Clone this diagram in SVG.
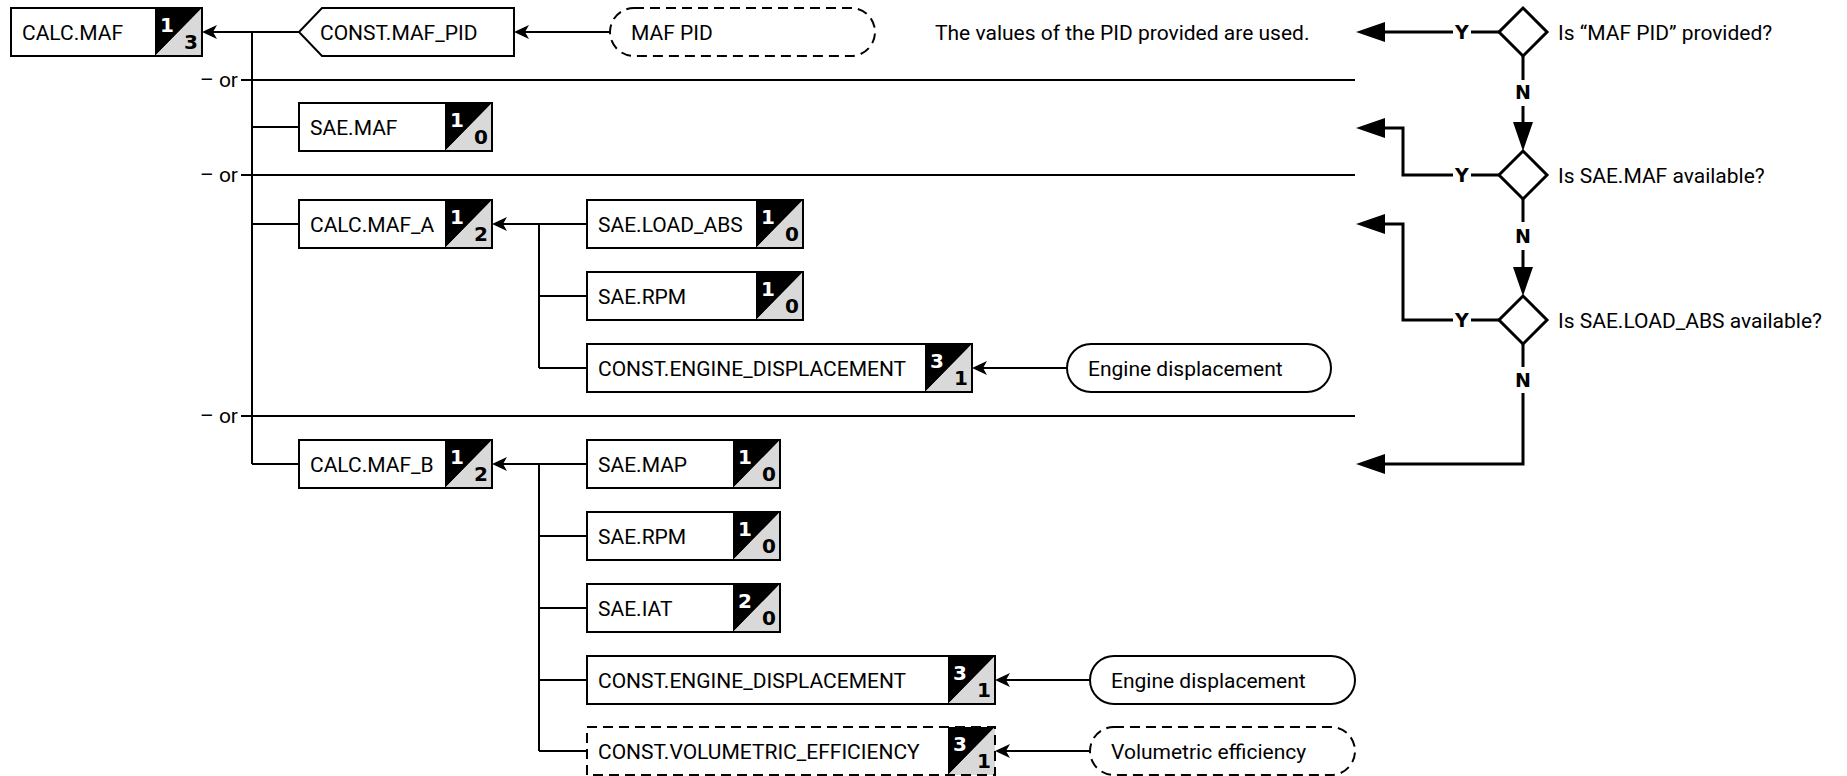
<svg xmlns="http://www.w3.org/2000/svg" width="1847" height="776" viewBox="0 0 1847 776">
<defs>
<style>
.t{font-family:Roboto,"Liberation Sans",sans-serif;font-size:21px;fill:#000}
.b{font-family:"DejaVu Sans","Liberation Sans",sans-serif;font-size:19px;font-weight:700;fill:#000}
.d{font-family:"DejaVu Sans","Liberation Sans",sans-serif;font-size:20px;font-weight:700;fill:#000}
.w{fill:#fff}
.box{fill:#fff;stroke:#000;stroke-width:2}
.frame{fill:none;stroke:#000;stroke-width:2}
.dash{stroke-dasharray:10 6}
.c{fill:none;stroke:#000;stroke-width:2}
.k{fill:none;stroke:#000;stroke-width:3}
.dia{fill:#fff;stroke:#000;stroke-width:3}
</style>
<marker id="a" markerWidth="16" markerHeight="14" refX="5" refY="7" orient="auto" markerUnits="userSpaceOnUse"><path d="M0,0 L15,7 L0,14 L4,7 Z" fill="#000"/></marker>
<marker id="A" markerWidth="30" markerHeight="20" refX="3" refY="10" orient="auto" markerUnits="userSpaceOnUse"><path d="M0,0 L29,10 L0,20 Z" fill="#000"/></marker>
<g id="badge"><polygon points="0,0 47,0 0,48" fill="#000"/><polygon points="47,0 47,48 0,48" fill="#d9d9d9"/></g>
</defs>
<rect width="1847" height="776" fill="#fff"/>

<g id="connectors">
<path class="c" d="M299,32 H212" marker-end="url(#a)"/>
<path class="c" d="M610,32 H524" marker-end="url(#a)"/>
<path class="c" d="M252,32 V464"/>
<path class="c" d="M252,127 H299 M252,224 H299 M252,464 H299"/>
<path class="c" d="M241,80 H1355 M241,175 H1355 M241,416 H1355"/>
<path class="c" d="M587,224 H502" marker-end="url(#a)"/>
<path class="c" d="M539,224 V368 M539,296 H587 M539,368 H587"/>
<path class="c" d="M1067,368 H982" marker-end="url(#a)"/>
<path class="c" d="M587,464 H502" marker-end="url(#a)"/>
<path class="c" d="M539,464 V751 M539,536 H587 M539,608 H587 M539,680 H587 M539,751 H587"/>
<path class="c" d="M1090,680 H1005" marker-end="url(#a)"/>
<path class="c" d="M1090,751 H1005" marker-end="url(#a)"/>
<path class="k" d="M1499,32 H1471 M1499,175 H1471 M1499,320 H1471"/>
<path class="k" d="M1453,32 H1382" marker-end="url(#A)"/>
<path class="k" d="M1453,175 H1403 V128 H1382" marker-end="url(#A)"/>
<path class="k" d="M1453,320 H1403 V224 H1382" marker-end="url(#A)"/>
<path class="k" d="M1523,56 V80 M1523,199 V222 M1523,344 V367"/>
<path class="k" d="M1523,106 V125" marker-end="url(#A)"/>
<path class="k" d="M1523,250 V270" marker-end="url(#A)"/>
<path class="k" d="M1523,393 V464 H1382" marker-end="url(#A)"/>
<text class="b" x="1462" y="39" text-anchor="middle">Y</text>
<text class="b" x="1462" y="182" text-anchor="middle">Y</text>
<text class="b" x="1462" y="327" text-anchor="middle">Y</text>
<text class="b" x="1523" y="99" text-anchor="middle">N</text>
<text class="b" x="1523" y="243" text-anchor="middle">N</text>
<text class="b" x="1523" y="387" text-anchor="middle">N</text>
<text class="t" x="238" y="87" text-anchor="end">– or</text>
<text class="t" x="238" y="182" text-anchor="end">– or</text>
<text class="t" x="238" y="423" text-anchor="end">– or</text>
</g>

<g id="calc-maf">
<rect class="box" x="11" y="8" width="191" height="48"/>
<use href="#badge" x="155" y="8"/>
<rect class="frame" x="11" y="8" width="191" height="48"/>
<text class="t" x="22" y="39.5">CALC.MAF</text>
<text class="d w" x="160" y="32">1</text>
<text class="d" x="198" y="49" text-anchor="end">3</text>
</g>

<g id="const-maf-pid">
<polygon class="box" points="299,32 322,8 514,8 514,56 322,56"/>
<text class="t" x="320" y="39.5">CONST.MAF_PID</text>
</g>

<g id="maf-pid">
<rect class="box dash" x="610" y="8" width="265" height="48" rx="24"/>
<text class="t" x="631" y="39.5">MAF PID</text>
</g>

<g id="note-pid">
<text class="t" x="935" y="39.5">The values of the PID provided are used.</text>
</g>

<g id="q-maf-pid">
<polygon class="dia" points="1523,8 1547,32 1523,56 1499,32"/>
<text class="t" x="1558" y="39.5">Is “MAF PID” provided?</text>
</g>
<g id="q-sae-maf">
<polygon class="dia" points="1523,151 1547,175 1523,199 1499,175"/>
<text class="t" x="1558" y="182.5">Is SAE.MAF available?</text>
</g>
<g id="q-load-abs">
<polygon class="dia" points="1523,296 1547,320 1523,344 1499,320"/>
<text class="t" x="1558" y="327.5">Is SAE.LOAD_ABS available?</text>
</g>

<g id="sae-maf">
<rect class="box" x="299" y="103" width="193" height="48"/>
<use href="#badge" x="445" y="103"/>
<rect class="frame" x="299" y="103" width="193" height="48"/>
<text class="t" x="310" y="134.5">SAE.MAF</text>
<text class="d w" x="450" y="127">1</text>
<text class="d" x="488" y="144" text-anchor="end">0</text>
</g>

<g id="calc-maf-a">
<rect class="box" x="299" y="200" width="193" height="48"/>
<use href="#badge" x="445" y="200"/>
<rect class="frame" x="299" y="200" width="193" height="48"/>
<text class="t" x="310" y="231.5">CALC.MAF_A</text>
<text class="d w" x="450" y="224">1</text>
<text class="d" x="488" y="241" text-anchor="end">2</text>
</g>

<g id="sae-load-abs">
<rect class="box" x="587" y="200" width="216" height="48"/>
<use href="#badge" x="756" y="200"/>
<rect class="frame" x="587" y="200" width="216" height="48"/>
<text class="t" x="598" y="231.5">SAE.LOAD_ABS</text>
<text class="d w" x="761" y="224">1</text>
<text class="d" x="799" y="241" text-anchor="end">0</text>
</g>

<g id="sae-rpm-a">
<rect class="box" x="587" y="272" width="216" height="48"/>
<use href="#badge" x="756" y="272"/>
<rect class="frame" x="587" y="272" width="216" height="48"/>
<text class="t" x="598" y="303.5">SAE.RPM</text>
<text class="d w" x="761" y="296">1</text>
<text class="d" x="799" y="313" text-anchor="end">0</text>
</g>

<g id="const-engine-a">
<rect class="box" x="587" y="344" width="385" height="48"/>
<use href="#badge" x="925" y="344"/>
<rect class="frame" x="587" y="344" width="385" height="48"/>
<text class="t" x="598" y="375.5">CONST.ENGINE_DISPLACEMENT</text>
<text class="d w" x="930" y="368">3</text>
<text class="d" x="968" y="385" text-anchor="end">1</text>
</g>

<g id="engine-a">
<rect class="box" x="1067" y="344" width="264" height="48" rx="24"/>
<text class="t" x="1088" y="375.5">Engine displacement</text>
</g>

<g id="calc-maf-b">
<rect class="box" x="299" y="440" width="193" height="48"/>
<use href="#badge" x="445" y="440"/>
<rect class="frame" x="299" y="440" width="193" height="48"/>
<text class="t" x="310" y="471.5">CALC.MAF_B</text>
<text class="d w" x="450" y="464">1</text>
<text class="d" x="488" y="481" text-anchor="end">2</text>
</g>

<g id="sae-map">
<rect class="box" x="587" y="440" width="193" height="48"/>
<use href="#badge" x="733" y="440"/>
<rect class="frame" x="587" y="440" width="193" height="48"/>
<text class="t" x="598" y="471.5">SAE.MAP</text>
<text class="d w" x="738" y="464">1</text>
<text class="d" x="776" y="481" text-anchor="end">0</text>
</g>

<g id="sae-rpm-b">
<rect class="box" x="587" y="512" width="193" height="48"/>
<use href="#badge" x="733" y="512"/>
<rect class="frame" x="587" y="512" width="193" height="48"/>
<text class="t" x="598" y="543.5">SAE.RPM</text>
<text class="d w" x="738" y="536">1</text>
<text class="d" x="776" y="553" text-anchor="end">0</text>
</g>

<g id="sae-iat">
<rect class="box" x="587" y="584" width="193" height="48"/>
<use href="#badge" x="733" y="584"/>
<rect class="frame" x="587" y="584" width="193" height="48"/>
<text class="t" x="598" y="615.5">SAE.IAT</text>
<text class="d w" x="738" y="608">2</text>
<text class="d" x="776" y="625" text-anchor="end">0</text>
</g>

<g id="const-engine-b">
<rect class="box" x="587" y="656" width="408" height="48"/>
<use href="#badge" x="948" y="656"/>
<rect class="frame" x="587" y="656" width="408" height="48"/>
<text class="t" x="598" y="687.5">CONST.ENGINE_DISPLACEMENT</text>
<text class="d w" x="953" y="680">3</text>
<text class="d" x="991" y="697" text-anchor="end">1</text>
</g>

<g id="engine-b">
<rect class="box" x="1090" y="656" width="265" height="48" rx="24"/>
<text class="t" x="1111" y="687.5">Engine displacement</text>
</g>

<g id="const-vol-eff">
<rect class="box dash" x="587" y="727" width="408" height="48"/>
<use href="#badge" x="948" y="727"/>
<rect class="frame dash" x="587" y="727" width="408" height="48"/>
<text class="t" x="598" y="758.5">CONST.VOLUMETRIC_EFFICIENCY</text>
<text class="d w" x="953" y="751">3</text>
<text class="d" x="991" y="768" text-anchor="end">1</text>
</g>

<g id="vol-eff">
<rect class="box dash" x="1090" y="727" width="265" height="48" rx="24"/>
<text class="t" x="1111" y="758.5">Volumetric efficiency</text>
</g>
</svg>
